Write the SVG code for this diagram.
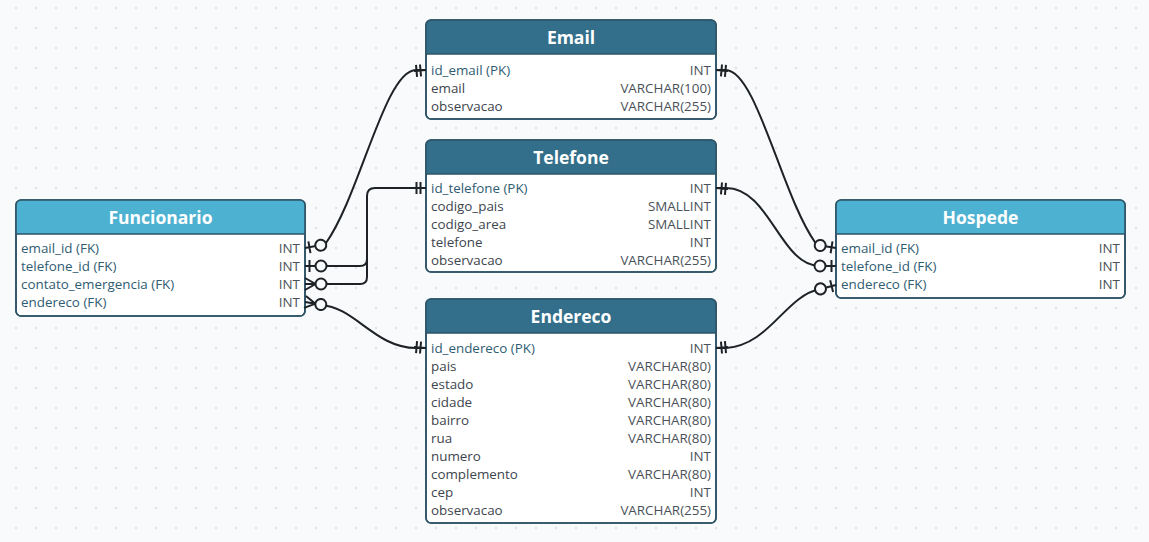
<svg xmlns="http://www.w3.org/2000/svg" xmlns:xlink="http://www.w3.org/1999/xlink" width="1149" height="542" viewBox="0 0 1149 542">
<style>
  .bg { fill: #f9fafb; }
  .body { fill: #ffffff; stroke: #2d5366; stroke-width: 1.6; }
  .frame { fill: none; stroke: #2d5366; stroke-width: 1.6; }
  .hdr-dark { fill: #336f8a; }
  .hdr-light { fill: #4db1d1; }
  .sep { stroke: #2d5366; stroke-width: 1.4; }
  .title { font-family: "Open Sans", "Noto Sans", "DejaVu Sans", sans-serif; font-size: 17.5px; font-weight: bold; fill: #ffffff; text-anchor: middle; }
  .f { font-family: "Open Sans", "Noto Sans", "DejaVu Sans", sans-serif; font-size: 13.4px; fill: #3d454d; }
  .k { fill: #2f5c72; }
  .t { font-family: "Open Sans", "Noto Sans", "DejaVu Sans", sans-serif; font-size: 13.4px; fill: #4a5158; text-anchor: end; }
  .conn { fill: none; stroke: #1e2226; stroke-width: 2; }
  .mk { fill: none; stroke: #1e2226; stroke-width: 2; }
  .mkc { fill: #f9fafb; stroke: #1e2226; stroke-width: 2; }
</style>
<defs>
  <pattern id="dots" x="6" y="-2" width="20" height="20" patternUnits="userSpaceOnUse">
    <circle cx="10" cy="10" r="1.3" fill="#e1e3e7"/>
  </pattern>
  <g id="one">
    <path class="mk" d="M0,0 H12 M5.5,-6 V6 M9.5,-6 V6"/>
  </g>
  <g id="zeroOne">
    <path class="mk" d="M0,0 H11 M4.5,-6 V6"/>
    <circle class="mkc" cx="16" cy="0" r="5.5"/>
  </g>
  <g id="zeroMany">
    <path class="mk" d="M0,0 H11 M0,-6 L10.5,0 L0,6"/>
    <circle class="mkc" cx="16" cy="0" r="5.5"/>
  </g>
</defs>

<rect class="bg" x="0" y="0" width="1149" height="542"/>
<rect x="0" y="0" width="1149" height="542" fill="url(#dots)"/>

<g id="connectors">
  <path class="conn" d="M321,245 L326,243 C360,195 385,70 416,70 L426,70"/>
  <path class="conn" d="M321,266 H360 Q367,266 367,259 V196 Q367,188 375,188 H426"/>
  <path class="conn" d="M321,284 H360 Q367,284 367,277 V258"/>
  <path class="conn" d="M321,305 C355,307 375,348 416,348 L426,348"/>
  <path class="conn" d="M716,70 L725.5,70 C756.5,70 781.5,195 815.5,243 L820,246"/>
  <path class="conn" d="M716,188 L726,188 C770,188 780,266 820,266"/>
  <path class="conn" d="M716,348 L726,348 C770,345 785,296 820,289"/>
</g>

<g id="Email">
  <rect class="body" x="426" y="20" width="290" height="99" rx="5"/>
  <path class="hdr-dark" d="M426,54 V25 Q426,20 431,20 H711 Q716,20 716,25 V54 Z"/>
  <line class="sep" x1="426" y1="54" x2="716" y2="54"/>
  <rect class="frame" x="426" y="20" width="290" height="99" rx="5"/>
  <text class="title" x="571" y="44">Email</text>
  <text class="f k" x="431" y="74.5">id_email (PK)</text><text class="t" x="711" y="74.5">INT</text>
  <text class="f" x="431" y="92.5">email</text><text class="t" x="711" y="92.5">VARCHAR(100)</text>
  <text class="f" x="431" y="110.5">observacao</text><text class="t" x="711" y="110.5">VARCHAR(255)</text>
</g>

<g id="Telefone">
  <rect class="body" x="426" y="140" width="290" height="132" rx="5"/>
  <path class="hdr-dark" d="M426,174 V145 Q426,140 431,140 H711 Q716,140 716,145 V174 Z"/>
  <line class="sep" x1="426" y1="174" x2="716" y2="174"/>
  <rect class="frame" x="426" y="140" width="290" height="132" rx="5"/>
  <text class="title" x="571" y="164">Telefone</text>
  <text class="f k" x="431" y="192.5">id_telefone (PK)</text><text class="t" x="711" y="192.5">INT</text>
  <text class="f" x="431" y="210.5">codigo_pais</text><text class="t" x="711" y="210.5">SMALLINT</text>
  <text class="f" x="431" y="228.5">codigo_area</text><text class="t" x="711" y="228.5">SMALLINT</text>
  <text class="f" x="431" y="246.5">telefone</text><text class="t" x="711" y="246.5">INT</text>
  <text class="f" x="431" y="264.5">observacao</text><text class="t" x="711" y="264.5">VARCHAR(255)</text>
</g>

<g id="Endereco">
  <rect class="body" x="426" y="299" width="290" height="224" rx="5"/>
  <path class="hdr-dark" d="M426,333 V304 Q426,299 431,299 H711 Q716,299 716,304 V333 Z"/>
  <line class="sep" x1="426" y1="333" x2="716" y2="333"/>
  <rect class="frame" x="426" y="299" width="290" height="224" rx="5"/>
  <text class="title" x="571" y="323">Endereco</text>
  <text class="f k" x="431" y="352.5">id_endereco (PK)</text><text class="t" x="711" y="352.5">INT</text>
  <text class="f" x="431" y="370.5">pais</text><text class="t" x="711" y="370.5">VARCHAR(80)</text>
  <text class="f" x="431" y="388.5">estado</text><text class="t" x="711" y="388.5">VARCHAR(80)</text>
  <text class="f" x="431" y="406.5">cidade</text><text class="t" x="711" y="406.5">VARCHAR(80)</text>
  <text class="f" x="431" y="424.5">bairro</text><text class="t" x="711" y="424.5">VARCHAR(80)</text>
  <text class="f" x="431" y="442.5">rua</text><text class="t" x="711" y="442.5">VARCHAR(80)</text>
  <text class="f" x="431" y="460.5">numero</text><text class="t" x="711" y="460.5">INT</text>
  <text class="f" x="431" y="478.5">complemento</text><text class="t" x="711" y="478.5">VARCHAR(80)</text>
  <text class="f" x="431" y="496.5">cep</text><text class="t" x="711" y="496.5">INT</text>
  <text class="f" x="431" y="514.5">observacao</text><text class="t" x="711" y="514.5">VARCHAR(255)</text>
</g>

<g id="Funcionario">
  <rect class="body" x="16" y="200" width="289" height="116" rx="5"/>
  <path class="hdr-light" d="M16,234 V205 Q16,200 21,200 H300 Q305,200 305,205 V234 Z"/>
  <line class="sep" x1="16" y1="234" x2="305" y2="234"/>
  <rect class="frame" x="16" y="200" width="289" height="116" rx="5"/>
  <text class="title" x="160.5" y="224">Funcionario</text>
  <text class="f k" x="21" y="252.5">email_id (FK)</text><text class="t" x="300" y="252.5">INT</text>
  <text class="f k" x="21" y="270.5">telefone_id (FK)</text><text class="t" x="300" y="270.5">INT</text>
  <text class="f k" x="21" y="288.5">contato_emergencia (FK)</text><text class="t" x="300" y="288.5">INT</text>
  <text class="f k" x="21" y="306.5">endereco (FK)</text><text class="t" x="300" y="306.5">INT</text>
</g>

<g id="Hospede">
  <rect class="body" x="836" y="200" width="289" height="98" rx="5"/>
  <path class="hdr-light" d="M836,234 V205 Q836,200 841,200 H1120 Q1125,200 1125,205 V234 Z"/>
  <line class="sep" x1="836" y1="234" x2="1125" y2="234"/>
  <rect class="frame" x="836" y="200" width="289" height="98" rx="5"/>
  <text class="title" x="980.5" y="224">Hospede</text>
  <text class="f k" x="841" y="252.5">email_id (FK)</text><text class="t" x="1120" y="252.5">INT</text>
  <text class="f k" x="841" y="270.5">telefone_id (FK)</text><text class="t" x="1120" y="270.5">INT</text>
  <text class="f k" x="841" y="288.5">endereco (FK)</text><text class="t" x="1120" y="288.5">INT</text>
</g>

<g id="markers">
  <use xlink:href="#zeroOne" transform="translate(305,248) rotate(-10)"/>
  <use xlink:href="#zeroOne" transform="translate(305,266)"/>
  <use xlink:href="#zeroMany" transform="translate(305,284)"/>
  <use xlink:href="#zeroMany" transform="translate(305,302) rotate(9)"/>
  <use xlink:href="#one" transform="translate(426,70) rotate(175)"/>
  <use xlink:href="#one" transform="translate(426,188) rotate(180)"/>
  <use xlink:href="#one" transform="translate(426,348) rotate(185)"/>
  <use xlink:href="#one" transform="translate(716,70) rotate(5)"/>
  <use xlink:href="#one" transform="translate(716,188) rotate(5)"/>
  <use xlink:href="#one" transform="translate(716,348) rotate(-5)"/>
  <use xlink:href="#zeroOne" transform="translate(836,248) rotate(189)"/>
  <use xlink:href="#zeroOne" transform="translate(836,266) rotate(180)"/>
  <use xlink:href="#zeroOne" transform="translate(836,285) rotate(166)"/>
</g>
</svg>
